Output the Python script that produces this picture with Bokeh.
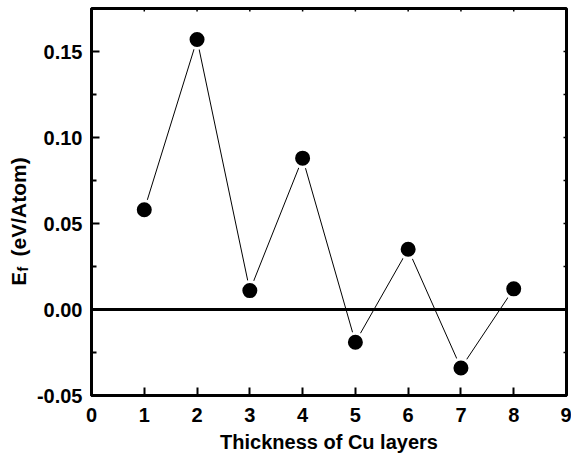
import math
from bokeh.plotting import figure
from bokeh.layouts import row
from bokeh.models import LinearAxis, Span, Label, FixedTicker, Range1d
from bokeh.embed import file_html
from bokeh.resources import INLINE

# Data
layers = [1, 2, 3, 4, 5, 6, 7, 8]
ef = [0.058, 0.157, 0.011, 0.088, -0.019, 0.035, -0.034, 0.012]

x_ticks = [0, 1, 2, 3, 4, 5, 6, 7, 8, 9]
y_ticks = [-0.05, 0.0, 0.05, 0.10, 0.15]
y_tick_labels = ["-0.05", "0.00", "0.05", "0.10", "0.15"]
y_minor = [-0.025, 0.025, 0.075, 0.125, 0.175]

FONT = "Liberation Sans"
X0, X1, Y0, Y1 = 0, 9, -0.05, 0.175
LW = 32  # width of the strip holding the y-axis title
BOTTOM = 61

p = figure(width=571 - LW, height=456,
           x_range=Range1d(X0, X1), y_range=Range1d(Y0, Y1),
           output_backend="svg", toolbar_location=None,
           x_axis_location=None, y_axis_location=None,
           min_border_left=91 - LW, min_border_right=5,
           min_border_top=8, min_border_bottom=BOTTOM)
p.grid.visible = False
p.outline_line_color = "black"
p.outline_line_width = 3
p.background_fill_color = "white"
p.border_fill_color = "white"

# left axis
yl = LinearAxis(ticker=FixedTicker(ticks=y_ticks, minor_ticks=y_minor))
yl.major_label_overrides = {t: s for t, s in zip(y_ticks, y_tick_labels)}
yl.axis_line_width = 3
yl.major_tick_in = 8
yl.major_tick_out = 0
yl.major_tick_line_width = 2
yl.minor_tick_in = 5
yl.minor_tick_out = 0
yl.minor_tick_line_width = 2
yl.major_label_standoff = 9
yl.major_label_text_font = FONT
yl.major_label_text_font_style = "bold"
yl.major_label_text_font_size = "20px"
yl.major_label_text_color = "black"
p.add_layout(yl, "left")

# bottom axis
xb = LinearAxis(ticker=FixedTicker(ticks=x_ticks, minor_ticks=[]))
xb.axis_line_width = 3
xb.major_tick_in = 8
xb.major_tick_out = 0
xb.major_tick_line_width = 2
xb.major_label_standoff = 12
xb.major_label_text_font = FONT
xb.major_label_text_font_style = "bold"
xb.major_label_text_font_size = "20px"
xb.major_label_text_color = "black"
xb.axis_label = "Thickness of Cu layers"
xb.axis_label_text_font = FONT
xb.axis_label_text_font_style = "bold"
xb.axis_label_text_font_size = "20px"
xb.axis_label_text_color = "black"
xb.axis_label_standoff = 6
p.add_layout(xb, "below")

# tiny inward ticks on the right and top frame edges
p.scatter([X1] * len(y_ticks + y_minor), y_ticks + y_minor, marker="dash",
          size=6, line_color="black", line_width=1.5)
p.scatter(x_ticks, [Y1] * len(x_ticks), marker="dash", angle=math.pi / 2,
          size=6, line_color="black", line_width=1.5)

# zero line
p.add_layout(Span(location=0, dimension="width", line_color="black", line_width=3))

# data
p.line(layers, ef, line_color="black", line_width=1)
p.scatter(layers, ef, size=18, fill_color="black", line_color="white", line_width=3)

# strip with the y-axis title: E, subscript f, (eV/Atom)
t = figure(width=LW, height=456, output_backend="svg", toolbar_location=None,
           x_axis_location=None, y_axis_location=None,
           min_border_left=0, min_border_right=0,
           min_border_top=8, min_border_bottom=BOTTOM, outline_line_color=None)
t.grid.visible = False
t.background_fill_color = "white"
t.border_fill_color = "white"
FB = 456 - BOTTOM  # frame bottom (page px); label y is measured up from here
common = dict(x_units="screen", y_units="screen", angle=math.pi / 2,
              text_font=FONT, text_font_style="bold", text_color="black",
              text_align="left", text_baseline="alphabetic")
t.add_layout(Label(x=18, y=FB - 285, text="E", text_font_size="20px", **common))
t.add_layout(Label(x=22, y=FB - 271, text="f", text_font_size="14px", **common))
t.add_layout(Label(x=18, y=FB - 256, text="(eV/Atom)", text_font_size="21px", **common))

layout = row(t, p, spacing=0)
open("out.html", "w").write(file_html(layout, INLINE))
